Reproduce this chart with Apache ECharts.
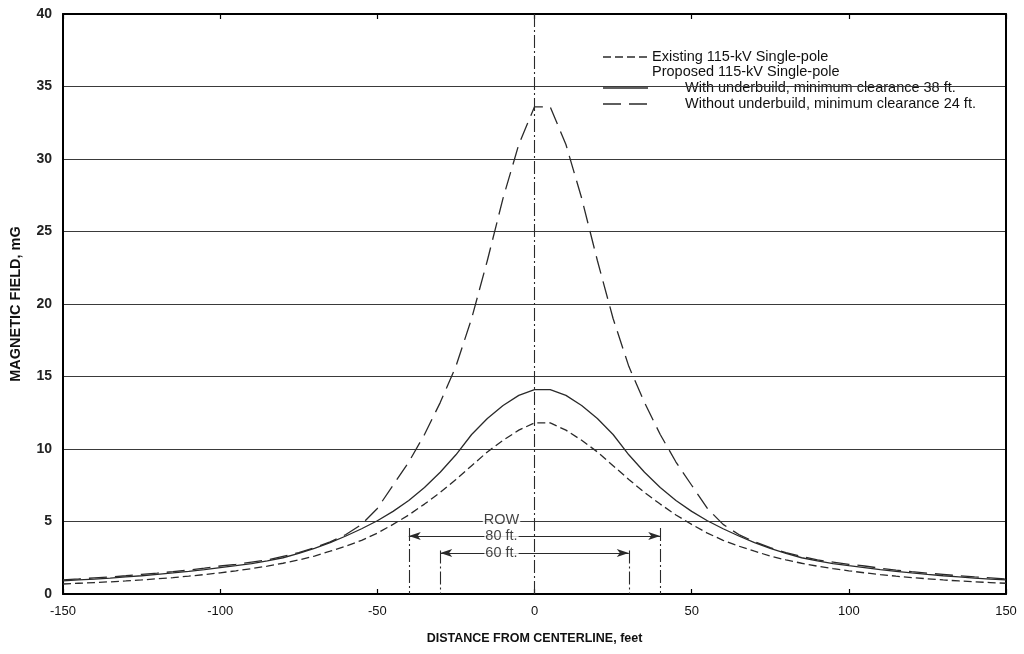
<!DOCTYPE html>
<html>
<head>
<meta charset="utf-8">
<script src="https://cdn.jsdelivr.net/npm/echarts@6/dist/echarts.min.js"></script>
<style>
  html, body { margin: 0; padding: 0; background: #fff; }
  #chart { width: 1024px; height: 654px; }
</style>
</head>
<body>
<div id="chart"></div>
<script>
// Distance from centerline, feet
const distances = [-150,-145,-140,-135,-130,-125,-120,-115,-110,-105,-100,-95,-90,-85,-80,-75,-70,-65,-60,-55,-50,-45,-40,-35,-30,-25,-20,-15,-10,-5,0,5,10,15,20,25,30,35,40,45,50,55,60,65,70,75,80,85,90,95,100,105,110,115,120,125,130,135,140,145,150];

// Existing 115-kV single-pole, mG
const existing = [0.69,0.74,0.79,0.84,0.9,0.97,1.05,1.13,1.23,1.34,1.46,1.6,1.75,1.92,2.12,2.35,2.62,2.95,3.3,3.7,4.2,4.8,5.45,6.2,7.0,7.9,8.85,9.8,10.6,11.3,11.8,11.8,11.3,10.6,9.8,8.85,7.9,7.0,6.2,5.45,4.8,4.2,3.7,3.3,2.95,2.62,2.35,2.12,1.92,1.75,1.6,1.46,1.34,1.23,1.13,1.05,0.97,0.9,0.84,0.79,0.74];

// Proposed, with underbuild (minimum clearance 38 ft), mG
const withUnderbuild = [0.91,0.97,1.03,1.1,1.18,1.26,1.35,1.45,1.56,1.68,1.82,1.95,2.1,2.28,2.5,2.8,3.15,3.55,4.0,4.5,5.05,5.7,6.45,7.35,8.4,9.6,11.0,12.1,13.0,13.7,14.1,14.1,13.7,13.0,12.1,11.0,9.6,8.4,7.35,6.45,5.7,5.05,4.5,4.0,3.55,3.15,2.8,2.5,2.28,2.1,1.95,1.82,1.68,1.56,1.45,1.35,1.26,1.18,1.1,1.03,0.97];

// Proposed, without underbuild (minimum clearance 24 ft), mG
const withoutUnderbuild = [0.98,1.04,1.11,1.18,1.26,1.35,1.44,1.54,1.65,1.78,1.93,2.05,2.2,2.35,2.6,2.85,3.2,3.6,4.1,4.8,5.9,7.5,9.1,11.0,13.2,15.7,19.0,23.0,27.3,31.0,33.6,33.6,31.0,27.3,23.0,19.0,15.7,13.2,11.0,9.1,7.5,5.9,4.8,4.1,3.6,3.2,2.85,2.6,2.35,2.2,2.05,1.93,1.78,1.65,1.54,1.44,1.35,1.26,1.18,1.11,1.04];

// Right-of-way annotation: half widths (ft) and labels
const rowHalfWidths = [40, 30];
const rowLabels = ['80 ft.', '60 ft.'];
const rowArrowLevels = [4.0, 2.83];
const rowLineTops = [4.55, 3.0];
const rowTitle = 'ROW';
const rowTitleLevel = 5.1;
const rowTextX = -10.5;

const legendTexts = [
  'Existing 115-kV Single-pole',
  'Proposed 115-kV Single-pole',
  'With underbuild, minimum clearance 38 ft.',
  'Without underbuild, minimum clearance 24 ft.'
];

const INK = '#2a2a2a';
const SHORT_DASH = [8, 4];
const LONG_DASH = [18, 8];
const DASH_DOT = [13, 3, 2, 3];
const SANS = '"Liberation Sans", Arial, sans-serif';

const pair = (vals) => distances.map((d, i) => [d, vals[i]]);

const chart = echarts.init(document.getElementById('chart'), null, { renderer: 'canvas' });

const curveStyle = (dash) => ({ color: INK, width: 1.3, type: dash });

const rowLines = [];
rowHalfWidths.forEach((w, i) => {
  [-w, w].forEach((x) => {
    rowLines.push([{ coord: [x, rowLineTops[i]] }, { coord: [x, 0] }]);
  });
});

const arrowLines = rowHalfWidths.map((w, i) => [
  { coord: [-w, rowArrowLevels[i]] },
  { coord: [w, rowArrowLevels[i]] }
]);

const textPoints = [[rowTextX, rowTitleLevel, rowTitle]].concat(
  rowLabels.map((t, i) => [rowTextX, rowArrowLevels[i], t])
);

const legendX = 603, legendLineEnd = 648, legendTextX = 652, legendIndentX = 685;
const legendY = [57, 72, 88, 104];
const legendFont = '14.5px ' + SANS;

chart.setOption({
  animation: false,
  backgroundColor: '#fff',
  grid: { left: 62, right: 18, top: 14, bottom: 60, show: false },
  xAxis: [
    {
      type: 'value', min: -150, max: 150, interval: 50,
      name: 'DISTANCE FROM CENTERLINE, feet',
      nameLocation: 'middle', nameGap: 38,
      nameTextStyle: { fontFamily: SANS, fontWeight: 'bold', fontSize: 12.5, color: '#111' },
      axisLine: { show: true, onZero: false, lineStyle: { color: '#000', width: 2 } },
      axisTick: { show: true, inside: true, length: 5, lineStyle: { color: '#000', width: 1.2 } },
      axisLabel: { fontFamily: SANS, fontSize: 13, color: '#111', margin: 11 },
      splitLine: { show: false }
    },
    {
      type: 'value', min: -150, max: 150, interval: 50, position: 'top',
      axisLine: { show: true, onZero: false, lineStyle: { color: '#000', width: 2 } },
      axisTick: { show: true, inside: true, length: 5, lineStyle: { color: '#000', width: 1.2 } },
      axisLabel: { show: false },
      splitLine: { show: false }
    }
  ],
  yAxis: [
    {
      type: 'value', min: 0, max: 40, interval: 5,
      name: 'MAGNETIC FIELD, mG',
      nameLocation: 'middle', nameGap: 40,
      nameTextStyle: { fontFamily: SANS, fontWeight: 'bold', fontSize: 14.5, color: '#111' },
      axisLine: { show: true, onZero: false, lineStyle: { color: '#000', width: 2 } },
      axisTick: { show: false },
      axisLabel: { fontFamily: SANS, fontWeight: 'bold', fontSize: 14, color: '#222', margin: 11 },
      splitLine: { show: true, lineStyle: { color: '#3a3a3a', width: 1.2 } }
    },
    {
      type: 'value', min: 0, max: 40, interval: 5, position: 'right',
      axisLine: { show: true, onZero: false, lineStyle: { color: '#000', width: 2 } },
      axisTick: { show: false },
      axisLabel: { show: false },
      splitLine: { show: false }
    }
  ],
  series: [
    {
      name: 'Existing 115-kV Single-pole',
      type: 'line', data: pair(existing), showSymbol: false, z: 3,
      lineStyle: curveStyle(SHORT_DASH)
    },
    {
      name: 'With underbuild, minimum clearance 38 ft.',
      type: 'line', data: pair(withUnderbuild), showSymbol: false, z: 3,
      lineStyle: curveStyle('solid')
    },
    {
      name: 'Without underbuild, minimum clearance 24 ft.',
      type: 'line', data: pair(withoutUnderbuild), showSymbol: false, z: 3,
      lineStyle: curveStyle(LONG_DASH)
    },
    {
      // centerline and right-of-way markers
      type: 'line', data: [], z: 2,
      markLine: {
        silent: true, symbol: 'none', animation: false,
        label: { show: false },
        lineStyle: { color: INK, width: 1.1, type: DASH_DOT },
        data: [[{ coord: [0, 40] }, { coord: [0, 0] }]].concat(rowLines)
      }
    },
    {
      type: 'line', data: [], z: 2,
      markLine: {
        silent: true, symbol: ['arrow', 'arrow'], symbolSize: [6, 12], animation: false,
        label: { show: false },
        lineStyle: { color: INK, width: 1.1, type: 'solid' },
        data: arrowLines
      }
    },
    {
      type: 'scatter', data: textPoints, symbolSize: 0, z: 10, silent: true,
      label: {
        show: true, position: 'inside',
        formatter: (p) => p.value[2],
        fontFamily: SANS, fontSize: 14.5, color: '#111',
        backgroundColor: '#fff', padding: [0, 1]
      }
    }
  ],
  graphic: [
    {
      type: 'group', z: 100,
      children: [
        { type: 'rect', shape: { x: 597, y: 44, width: 396, height: 70 }, style: { fill: '#fff' } },
        { type: 'line', shape: { x1: legendX, y1: legendY[0], x2: legendLineEnd, y2: legendY[0] }, style: { stroke: INK, lineWidth: 1.3, lineDash: SHORT_DASH } },
        { type: 'text', x: legendTextX, y: legendY[0], style: { text: legendTexts[0], font: legendFont, fill: '#111', verticalAlign: 'middle' } },
        { type: 'text', x: legendTextX, y: legendY[1], style: { text: legendTexts[1], font: legendFont, fill: '#111', verticalAlign: 'middle' } },
        { type: 'line', shape: { x1: legendX, y1: legendY[2], x2: legendLineEnd, y2: legendY[2] }, style: { stroke: INK, lineWidth: 1.3 } },
        { type: 'text', x: legendIndentX, y: legendY[2], style: { text: legendTexts[2], font: legendFont, fill: '#111', verticalAlign: 'middle' } },
        { type: 'line', shape: { x1: legendX, y1: legendY[3], x2: legendLineEnd, y2: legendY[3] }, style: { stroke: INK, lineWidth: 1.3, lineDash: LONG_DASH } },
        { type: 'text', x: legendIndentX, y: legendY[3], style: { text: legendTexts[3], font: legendFont, fill: '#111', verticalAlign: 'middle' } }
      ]
    }
  ]
});
</script>
</body>
</html>
